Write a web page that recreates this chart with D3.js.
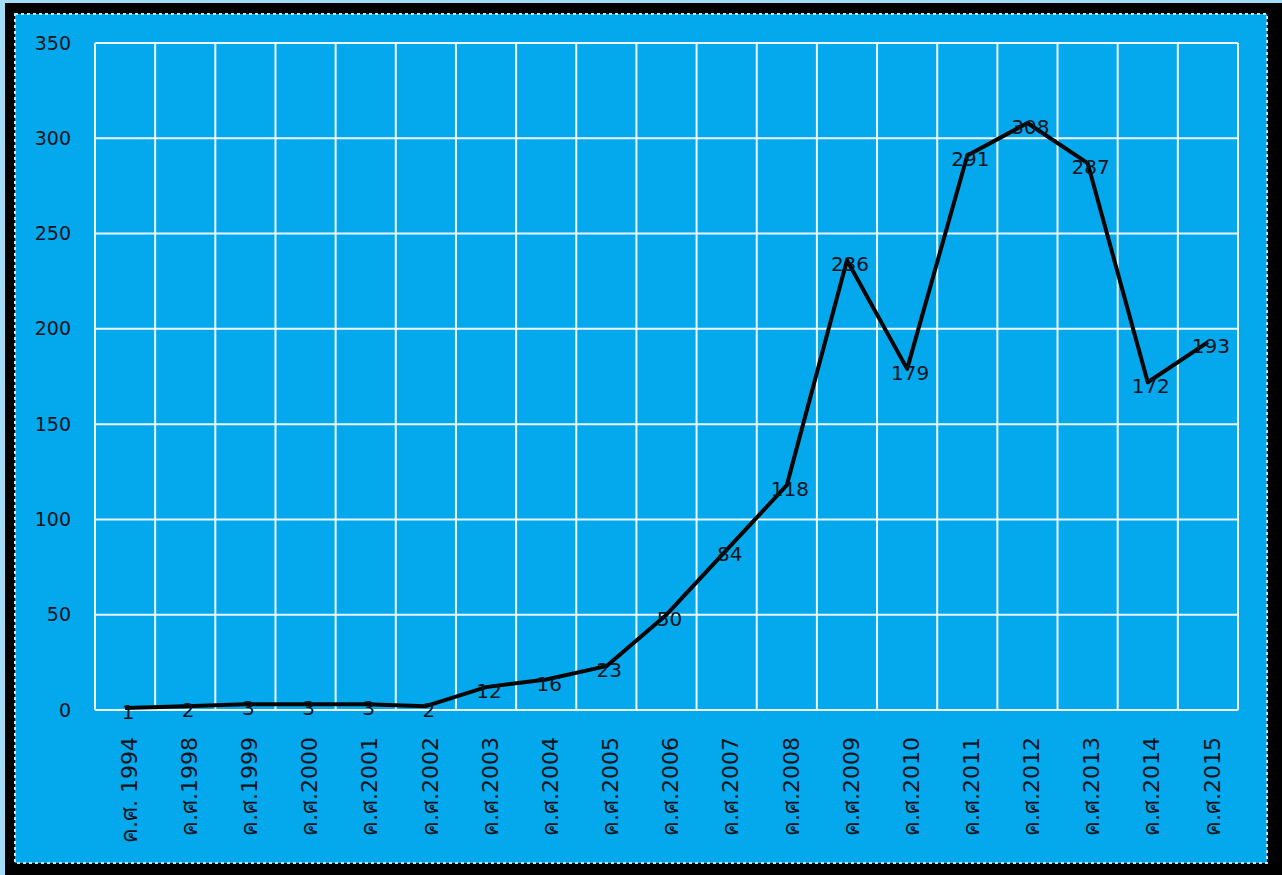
<!DOCTYPE html>
<html>
<head>
<meta charset="utf-8">
<script src="https://cdn.jsdelivr.net/npm/d3@7/dist/d3.min.js"></script>
<style>
html,body{margin:0;padding:0;background:#a3dcf7;}
svg{display:block;}
text{font-family:"DejaVu Sans",sans-serif;}
</style>
</head>
<body>
<svg id="chart" width="1282" height="875"></svg>
<script>
const categories = ["ค.ศ. 1994","ค.ศ.1998","ค.ศ.1999","ค.ศ.2000","ค.ศ.2001","ค.ศ.2002","ค.ศ.2003","ค.ศ.2004","ค.ศ.2005","ค.ศ.2006","ค.ศ.2007","ค.ศ.2008","ค.ศ.2009","ค.ศ.2010","ค.ศ.2011","ค.ศ.2012","ค.ศ.2013","ค.ศ.2014","ค.ศ.2015"];
const values = [1,2,3,3,3,2,12,16,23,50,84,118,236,179,291,308,287,172,193];
const yTicks = [0,50,100,150,200,250,300,350];

const svg = d3.select("#chart");
const W = 1282, H = 875;
const FONT = "'DejaVu Sans',sans-serif";

// frame
svg.append("rect").attr("x",0).attr("y",0).attr("width",W).attr("height",H).attr("fill","#a3dcf7");
svg.append("rect").attr("x",5).attr("y",3).attr("width",W-5).attr("height",H-3).attr("fill","#000");
svg.append("rect").attr("x",15).attr("y",14).attr("width",1252).attr("height",849).attr("fill","#04a8ec");
svg.append("rect").attr("x",15).attr("y",14).attr("width",1252).attr("height",849)
  .attr("fill","none").attr("stroke","#bfe6f8").attr("stroke-width",2).attr("stroke-dasharray","3,3");

const x = d3.scaleBand().domain(categories).range([95,1238]).padding(0);
const y = d3.scaleLinear().domain([0,350]).range([710,43]);

// gridlines
const g = svg.append("g");
g.selectAll("line.h").data(yTicks).join("line")
  .attr("x1",95).attr("x2",1238).attr("y1",d=>y(d)).attr("y2",d=>y(d))
  .attr("stroke","#eef8ff").attr("stroke-width",2);
const vx = categories.map(c=>x(c)).concat([x(categories[categories.length-1])+x.bandwidth()]);
g.selectAll("line.v").data(vx).join("line")
  .attr("x1",d=>d).attr("x2",d=>d).attr("y1",43).attr("y2",710)
  .attr("stroke","#eef8ff").attr("stroke-width",2);

// y axis labels
const yAxis = d3.axisLeft(y).tickValues(yTicks).tickSize(0).tickPadding(24);
const ya = svg.append("g").attr("transform","translate(95,0)").call(yAxis);
ya.select(".domain").remove();
ya.selectAll("text").attr("font-size",19).attr("fill","#0a1420").attr("font-family",FONT);

// x axis labels (rotated)
const xAxis = d3.axisBottom(x).tickSize(0).tickPadding(0);
const xa = svg.append("g").attr("transform","translate(0,710)").call(xAxis);
xa.select(".domain").remove();
xa.selectAll("text")
  .attr("font-size",22).attr("fill","#0a1420").attr("font-family",FONT)
  .attr("text-anchor","end").attr("transform","translate(4,27) rotate(-90)")
  .attr("x",0).attr("y",0).attr("dy","0.35em");

// line
const line = d3.line().x((d,i)=>x(categories[i])+x.bandwidth()/2).y(d=>y(d));
svg.append("path").datum(values).attr("d",line)
  .attr("fill","none").attr("stroke","#050505").attr("stroke-width",4).attr("stroke-linejoin","round");

// data labels
svg.append("g").selectAll("text").data(values).join("text")
  .attr("x",(d,i)=>x(categories[i])+x.bandwidth()/2+3)
  .attr("y",d=>y(d)+4)
  .attr("text-anchor","middle").attr("dominant-baseline","central")
  .attr("font-size",20).attr("fill","#0a1420").attr("font-family",FONT)
  .text(d=>d);
</script>
</body>
</html>
